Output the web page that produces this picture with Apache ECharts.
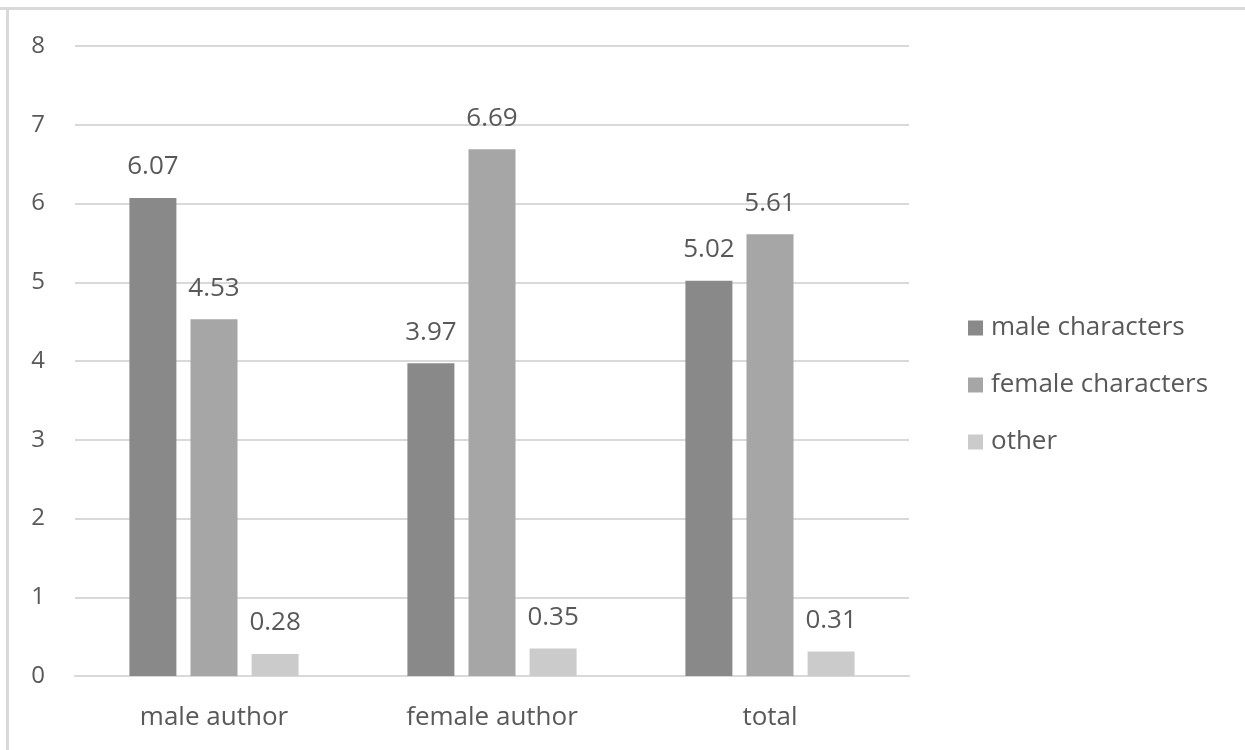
<!DOCTYPE html>
<html>
<head>
<meta charset="utf-8">
<script src="https://cdn.jsdelivr.net/npm/echarts@6/dist/echarts.min.js"></script>
<style>
  html, body { margin: 0; padding: 0; background: #ffffff; }
  #chart { width: 1245px; height: 750px; }
</style>
</head>
<body>
<div id="chart"></div>
<script>
// Average counts per book, split by author gender
const categories = ['male author', 'female author', 'total'];
const seriesNames = ['male characters', 'female characters', 'other'];
const maleCharacters = [6.07, 3.97, 5.02];
const femaleCharacters = [4.53, 6.69, 5.61];
const otherCharacters = [0.28, 0.35, 0.31];
const yTicks = [0, 1, 2, 3, 4, 5, 6, 7, 8];

const colors = ['#898989', '#a6a6a6', '#cbcbcb'];
const textColor = '#595959';
const fontFamily = '"Open Sans", "Noto Sans", sans-serif';
const fontSize = 26;

const chart = echarts.init(document.getElementById('chart'), null, { renderer: 'canvas' });

function barSeries(name, data, color) {
  return {
    name: name,
    type: 'bar',
    data: data,
    barWidth: 47,
    barGap: '30%',
    itemStyle: { color: color },
    label: {
      show: true,
      position: 'top',
      distance: 18,
      color: textColor,
      fontFamily: fontFamily,
      fontSize: fontSize,
      formatter: p => p.value.toFixed(2)
    }
  };
}

chart.setOption({
  animation: false,
  backgroundColor: '#ffffff',
  textStyle: { fontFamily: fontFamily },
  grid: { left: 75, right: 336, top: 46, bottom: 74, containLabel: false },
  xAxis: {
    type: 'category',
    data: categories,
    axisTick: { show: false },
    axisLine: { show: true, lineStyle: { color: '#d9d9d9', width: 2 } },
    axisLabel: { color: textColor, fontSize: fontSize, margin: 29, fontFamily: fontFamily }
  },
  yAxis: {
    type: 'value',
    min: yTicks[0],
    max: yTicks[yTicks.length - 1],
    interval: 1,
    axisLine: { show: false },
    axisTick: { show: false },
    axisLabel: { color: textColor, fontSize: 24, margin: 30, fontFamily: fontFamily },
    splitLine: { lineStyle: { color: '#d9d9d9', width: 2 } }
  },
  legend: {
    orient: 'vertical',
    left: 963,
    top: 310,
    itemWidth: 15,
    itemHeight: 15,
    itemGap: 31,
    icon: 'rect',
    data: seriesNames,
    textStyle: { color: textColor, fontSize: fontSize, lineHeight: 24, fontFamily: fontFamily, padding: [0, 0, 0, 3] }
  },
  graphic: [
    { type: 'rect', shape: { x: 0, y: 7, width: 1245, height: 3 }, style: { fill: '#d9d9d9' }, silent: true },
    { type: 'rect', shape: { x: 6, y: 7, width: 3, height: 743 }, style: { fill: '#d9d9d9' }, silent: true }
  ],
  series: [
    barSeries(seriesNames[0], maleCharacters, colors[0]),
    barSeries(seriesNames[1], femaleCharacters, colors[1]),
    barSeries(seriesNames[2], otherCharacters, colors[2])
  ]
});
</script>
</body>
</html>
